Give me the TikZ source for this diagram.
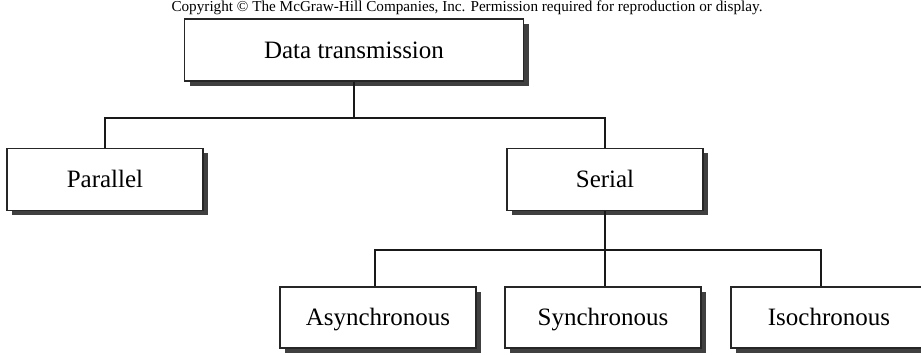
\documentclass[tikz,border=0pt]{standalone}
\usepackage{fontspec}
\setmainfont{Liberation Serif}
\usetikzlibrary{shadows}

\tikzset{
  box/.style={draw=black!85, line width=1.5pt, fill=white,
    minimum width=196pt, minimum height=62pt, inner sep=0pt,
    text height=19pt, text depth=2pt,
    font=\fontsize{25}{30}\selectfont,
    drop shadow={shadow xshift=5pt, shadow yshift=-5pt, fill=black!75, opacity=1}},
  link/.style={line width=2.5pt, draw=black!90}
}

\begin{document}
\begin{tikzpicture}[x=1pt, y=-1pt]
\useasboundingbox (0,0) rectangle (921,355);
% Header line
\node[font=\fontsize{15.2}{17}\selectfont] (copy) at (467,8)
  {Copyright © The McGraw-Hill Companies, Inc. Permission required for reproduction or display.};
% Boxes
\node[box, minimum width=339pt] (trans) at (354,50) {Data transmission};
\node[box] (par) at (105,179.5) {Parallel};
\node[box] (ser) at (605,179.5) {Serial};
\node[box, minimum height=61pt] (asyn) at (378,317.5) {Asynchronous};
\node[box, minimum height=61pt] (syn) at (603,317.5) {Synchronous};
\node[box, minimum height=61pt] (iso) at (829,317.5) {Isochronous};
% Connectors
\coordinate (split) at (354,118);
\coordinate (sersplit) at (605,250);
\coordinate (isotop) at ([xshift=-8pt]iso.north);
\draw[link] (trans.south) -- (split);
\draw[link] (par.north) |- (split) -| (ser.north);
\draw[link] (ser.south) -- (ser.south |- syn.north);
\draw[link] ([xshift=-3pt]asyn.north) |- (sersplit) -| (isotop);
\end{tikzpicture}
\end{document}
